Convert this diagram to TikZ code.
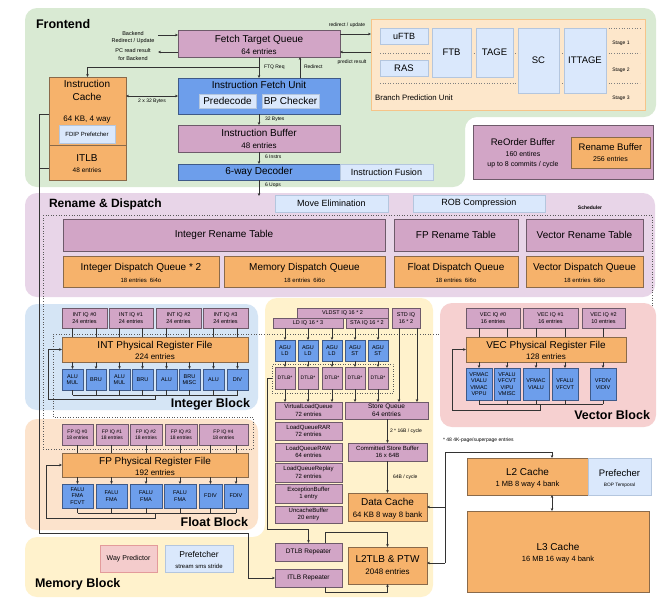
\documentclass[tikz,border=0pt]{standalone}
\usepackage{fontspec}
\setmainfont{Liberation Sans}
\usetikzlibrary{arrows.meta,calc}
\definecolor{greenbg}{HTML}{D9EAD3}
\definecolor{renbg}{HTML}{E8D5E8}
\definecolor{intbg}{HTML}{D5E5F5}
\definecolor{fltbg}{HTML}{FCE3CC}
\definecolor{membg}{HTML}{FFF2CC}
\definecolor{vecbg}{HTML}{F6D0D0}
\definecolor{pinkc}{HTML}{D2A5C6}
\definecolor{pinkd}{HTML}{6E5A6A}
\definecolor{orc}{HTML}{F6B26B}
\definecolor{ord}{HTML}{8A6A4A}
\definecolor{bluec}{HTML}{6D9EEB}
\definecolor{blued}{HTML}{3F5A88}
\definecolor{lbc}{HTML}{DAE8FC}
\definecolor{lbd}{HTML}{B4C6DE}
\definecolor{bpuc}{HTML}{FDE7CB}
\definecolor{bpud}{HTML}{F6C489}
\definecolor{linec}{HTML}{333333}
\definecolor{wpc}{HTML}{F4CCCC}
\definecolor{wpd}{HTML}{E39B9B}
\newcommand{\fsz}[2]{\fontsize{#1}{#2}\selectfont}
\newcommand{\bx}[7]{\node[#1, minimum width={(#5)-(#3)}, minimum height={(#6)-(#4)}] (#2) at ({((#3)+(#5))/2},{((#4)+(#6))/2}) {#7};}
\newcommand{\tx}[5]{\node[inner sep=0pt, outer sep=0pt, text height=0.72em, text depth=0pt, font=\fsz{#4}{#4}] (#1) at (#2,#3) {#5};}
\begin{document}
\begin{tikzpicture}[x=1pt,y=-1pt,
  bxbase/.style={draw, line width=0.5pt, inner sep=0pt, outer sep=0pt, align=center},
  pk/.style={bxbase, fill=pinkc, draw=pinkd},
  og/.style={bxbase, fill=orc, draw=ord},
  bl/.style={bxbase, fill=bluec, draw=blued},
  lb/.style={bxbase, fill=lbc, draw=lbd},
  arr/.style={draw=linec, line width=0.5pt, -{Stealth[length=3pt,width=2.6pt]}},
  dbl/.style={draw=linec, line width=0.5pt, {Stealth[length=3pt,width=2.6pt]}-{Stealth[length=3pt,width=2.6pt]}},
  ln/.style={draw=linec, line width=0.5pt},
  lbl/.style={inner sep=0pt, outer sep=0pt, align=center, font=\fsz{5}{6}},
  ttl/.style={inner sep=0pt, outer sep=0pt, font=\bfseries\fsz{12.5}{14}},
  sch/.style={draw=gray!70!black, dotted, line width=0.6pt},
]
\useasboundingbox (0,0) rectangle (661,606);
\fill[white] (0,0) rectangle (661,606);
% ---------- backgrounds
\fill[greenbg, rounded corners=12pt] (25,8) -- (656,8) -- (656,117) -- (465,117) -- (465,187) -- (25,187) -- cycle;
\fill[renbg, rounded corners=12pt] (25,193) rectangle (655,297);
\fill[intbg, rounded corners=12pt] (25,304) rectangle (258,410);
\fill[fltbg, rounded corners=12pt] (25,419) rectangle (258,530);
\fill[membg, rounded corners=12pt] (265,298) -- (433,298) -- (433,597) -- (25,597) -- (25,537) -- (265,537) -- cycle;
\draw[sch] (43,215) -- (652,215) -- (652,334) -- (53,334) -- (53,417) -- (253,417) -- (253,449) -- (43,449) -- cycle;
\fill[vecbg, rounded corners=12pt] (440,303) rectangle (656,427);
% ---------- titles
\node[ttl, anchor=west] (tfr) at (36,24) {Frontend};
\node[ttl, anchor=west, font=\bfseries\fsz{12}{14}] (trn) at (49,204) {Rename \& Dispatch};
\node[ttl, anchor=east] (tint) at (250,404) {Integer Block};
\node[ttl, anchor=east] (tflt) at (248,522) {Float Block};
\node[ttl, anchor=west] (tmem) at (35,584) {Memory Block};
\node[ttl, anchor=east] (tvec) at (650,415) {Vector Block};
% ---------- frontend
\bx{pk}{ftq}{178}{30}{340}{57}{}
\tx{ftqa}{259}{39}{10}{Fetch Target Queue}
\tx{ftqb}{259}{50.5}{8}{64 entries}
\tx{bka}{133}{32}{5.5}{Backend}
\tx{bkb}{133}{39}{5.5}{Redirect / Update}
\tx{pca}{133}{49}{5.5}{PC read result}
\tx{pcb}{133}{57}{5.5}{for Backend}
\bx{og}{icache}{49}{77}{126}{145}{}
\tx{ica}{87}{84}{10}{Instruction}
\tx{icb}{87}{97}{10}{Cache}
\tx{icc}{87}{118}{8}{64 KB, 4 way}
\bx{lb, font=\fsz{6}{7}}{fdip}{59}{125}{115}{143}{FDIP Prefetcher}
\bx{og}{itlb}{49}{145}{126}{180}{}
\tx{itla}{87}{158}{10}{ITLB}
\tx{itlbb}{87}{169}{6.5}{48 entries}
\bx{bl}{ifu}{178}{78}{340}{114}{}
\tx{ifut}{259}{85}{10}{Instruction Fetch Unit}
\bx{lb, font=\fsz{10}{12}}{prede}{199}{94}{256}{108}{Predecode}
\bx{lb, font=\fsz{10}{12}}{bpchk}{262}{94}{319}{108}{BP Checker}
\bx{pk}{ib}{178}{125}{340}{152}{}
\tx{iba}{259}{133}{10}{Instruction Buffer}
\tx{ibb}{259}{145}{8}{48 entries}
\bx{bl, font=\fsz{10}{12}}{dec}{178}{164}{340}{180}{6-way Decoder}
\bx{lb, font=\fsz{9}{11}}{fus}{340}{164}{433}{180}{Instruction Fusion}
\node[lbl, anchor=west] (lreq) at (264,67) {FTQ Req};
\node[lbl, anchor=west] (lredir) at (304,67) {Redirect};
\node[lbl, anchor=west] (l32) at (265,119) {32 Bytes};
\node[lbl, anchor=west] (l6i) at (265,157) {6 Instrs};
\node[lbl, anchor=west] (l6u) at (265,185) {6 Uops};
\node[lbl] (l2x) at (152,101) {2 x 32 Bytes};
\node[lbl] (lru) at (347,25) {redirect / update};
\node[lbl] (lpr) at (352,62) {predict result};
% BPU
\bx{bxbase, fill=bpuc, draw=bpud, line width=0.8pt}{bpu}{371}{19}{645}{110}{}
\draw[sch, draw=gray] (380,53) -- (640,53);
\draw[sch, draw=gray] (380,83) -- (640,83);
\draw[sch, draw=gray] (606,28) -- (640,28);
\bx{lb, font=\fsz{9}{11}}{uftb}{380}{28}{428}{44}{uFTB}
\bx{lb, font=\fsz{9.5}{11}}{ras}{380}{60}{428}{76}{RAS}
\bx{lb, font=\fsz{9.5}{11}}{ftb}{432}{28}{471}{77}{FTB}
\bx{lb, font=\fsz{9.5}{11}}{tage}{476}{28}{513}{77}{TAGE}
\bx{lb, font=\fsz{9.5}{11}}{sc}{518}{28}{559}{93}{SC}
\bx{lb, font=\fsz{9.5}{11}}{ittage}{564}{28}{606}{93}{ITTAGE}
\tx{st1}{621}{41}{5}{Stage 1}
\tx{st2}{621}{68}{5}{Stage 2}
\tx{st3}{621}{96}{5}{Stage 3}
\node[inner sep=0pt, anchor=west, font=\fsz{7.8}{9}] (bpul) at (375,98) {Branch Prediction Unit};
% ROB
\bx{pk}{rob}{473}{125}{653}{179}{}
\tx{roba}{523}{142}{9.5}{ReOrder Buffer}
\tx{robb}{523}{153}{7}{160 entires}
\tx{robc2}{523}{163}{7}{up to 8 commits / cycle}
\bx{og}{renbuf}{571}{137}{650}{168}{}
\tx{rba}{610.5}{147}{9.5}{Rename Buffer}
\tx{rbb}{610.5}{158}{7}{256 entries}
% frontend connectors
\draw[arr] (ftq.south) -- (ifu.north);
\coordinate (jreq) at (259,67);
\draw[arr] (jreq) -| (icache.north);
\draw[arr] ([xshift=41pt]ifu.north) -- ([xshift=41pt]ftq.south);
\draw[dbl] (ifu.west -| icache.east) -- (ifu.west);
\draw[arr] (ifu.south) -- (ib.north);
\draw[arr] (ib.south) -- (dec.north);
\coordinate (renin) at (259,196);
\draw[arr] (dec.south) -- (renin);
\coordinate (bk1) at (158,35);
\draw[arr] (bk1) -- (bk1 -| ftq.west);
\coordinate (bk2) at (158,52);
\draw[arr] (bk2 -| ftq.west) -- (bk2);
\draw[arr] ([yshift=9.5pt]ftq.east) -- ([yshift=9.5pt]ftq.east -| bpu.west);
\draw[arr] ([yshift=-8.5pt]ftq.east -| bpu.west) -- ([yshift=-8.5pt]ftq.east);
% ---------- rename & dispatch
\bx{lb, font=\fsz{9}{11}}{moveel}{275}{195}{388}{212}{Move Elimination}
\bx{lb, font=\fsz{9}{11}}{robcomp}{413}{195}{545}{212}{ROB Compression}
\node[inner sep=0pt, font=\bfseries\fsz{5}{6}] (schl) at (590,208) {Scheduler};
\bx{pk, font=\fsz{10}{12}}{irt}{63}{219}{385}{251}{Integer Rename Table}
\bx{pk, font=\fsz{10}{12}}{frt}{394}{219}{518}{251}{FP Rename Table}
\bx{pk, font=\fsz{10}{12}}{vrt}{526}{219}{643}{251}{Vector Rename Table}
\bx{og}{idq}{63}{256}{219}{287}{}
\tx{idqa}{141}{267}{10}{Integer Dispatch Queue * 2}
\tx{idqb}{141}{279}{6}{18 entries\enspace 6i4o}
\bx{og}{mdq}{224}{256}{385}{287}{}
\tx{mdqa}{304.5}{267}{10}{Memory Dispatch Queue}
\tx{mdqb}{304.5}{279}{6}{18 entries\enspace 6i6o}
\bx{og}{fdq}{394}{256}{518}{287}{}
\tx{fdqa}{456}{267}{10}{Float Dispatch Queue}
\tx{fdqb}{456}{279}{6}{18 entries\enspace 6i6o}
\bx{og}{vdq}{526}{256}{643}{287}{}
\tx{vdqa}{584.5}{267}{10}{Vector Dispatch Queue}
\tx{vdqb}{584.5}{279}{6}{18 entries\enspace 6i6o}
% ---------- left long lines
\coordinate (l1) at (39,114); \coordinate (l2) at (39,533); \coordinate (l3) at (248,533); \coordinate (l4) at (39,168);
\draw[ln] (l1 -| icache.west) -- (l1) -- (l2) -- (l3);
\draw[ln] (l4 -| itlb.west) -- (l4);
% ---------- integer block
\bx{pk, font=\fsz{5.5}{6.5}}{iiq0}{62}{308}{107}{328}{INT IQ \#0\\24 entries}
\bx{pk, font=\fsz{5.5}{6.5}}{iiq1}{109}{308}{153}{328}{INT IQ \#1\\24 entries}
\bx{pk, font=\fsz{5.5}{6.5}}{iiq2}{156}{308}{201}{328}{INT IQ \#2\\24 entries}
\bx{pk, font=\fsz{5.5}{6.5}}{iiq3}{203}{308}{248}{328}{INT IQ \#3\\24 entries}
\bx{og}{iprf}{62}{337}{248}{362}{}
\tx{iprfa}{155}{344.5}{10}{INT Physical Register File}
\tx{iprfb}{155}{356}{8}{224 entries}
\bx{bl, font=\fsz{5.5}{6.5}}{iu1}{62}{369}{83}{390}{ALU\\MUL}
\bx{bl, font=\fsz{5.5}{6.5}}{iu2}{86}{369}{106}{390}{BRU}
\bx{bl, font=\fsz{5.5}{6.5}}{iu3}{109}{369}{130}{390}{ALU\\MUL}
\bx{bl, font=\fsz{5.5}{6.5}}{iu4}{132}{369}{153}{390}{BRU}
\bx{bl, font=\fsz{5.5}{6.5}}{iu5}{156}{369}{177}{390}{ALU}
\bx{bl, font=\fsz{5.5}{6.5}}{iu6}{179}{369}{200}{390}{BRU\\MISC}
\bx{bl, font=\fsz{5.5}{6.5}}{iu7}{203}{369}{224}{390}{ALU}
\bx{bl, font=\fsz{5.5}{6.5}}{iu8}{227}{369}{248}{390}{DIV}
\coordinate (iqb) at (0,328); \coordinate (ibus) at (0,395);
\foreach \u in {1,...,8}{
  \draw[ln] (iu\u.north |- iqb) -- (iu\u.north |- iprf.north);
  \draw[arr] (iu\u.north |- iprf.south) -- (iu\u.north);
  \draw[ln] (iu\u.south) -- (iu\u.south |- ibus);
}
\draw[ln] (iu1.south |- ibus) -- (iu8.south |- ibus);
\coordinate (iw1) at (155,395); \coordinate (iw2) at (48,399);
\draw[arr] (iw1) |- (iw2) |- (iprf.west);
% ---------- float block
\bx{pk, font=\fsz{5}{6}}{fiq0}{62}{424}{93}{445}{FP IQ \#0\\18 entries}
\bx{pk, font=\fsz{5}{6}}{fiq1}{96}{424}{128}{445}{FP IQ \#1\\18 entries}
\bx{pk, font=\fsz{5}{6}}{fiq2}{130}{424}{162}{445}{FP IQ \#2\\18 entries}
\bx{pk, font=\fsz{5}{6}}{fiq3}{165}{424}{197}{445}{FP IQ \#3\\18 entries}
\bx{pk, font=\fsz{5}{6}}{fiq4}{199}{424}{248}{445}{FP IQ \#4\\18 entries}
\bx{og}{fprf}{62}{453}{248}{477}{}
\tx{fprfa}{155}{461}{10}{FP Physical Register File}
\tx{fprfb}{155}{472}{8}{192 entries}
\bx{bl, font=\fsz{5.5}{6.5}}{fu1}{62}{484}{93}{508}{FALU\\FMA\\FCVT}
\bx{bl, font=\fsz{5.5}{6.5}}{fu2}{96}{484}{127}{508}{FALU\\FMA}
\bx{bl, font=\fsz{5.5}{6.5}}{fu3}{130}{484}{162}{508}{FALU\\FMA}
\bx{bl, font=\fsz{5.5}{6.5}}{fu4}{164}{484}{196}{508}{FALU\\FMA}
\bx{bl, font=\fsz{5.5}{6.5}}{fu5}{199}{484}{222}{508}{FDIV}
\bx{bl, font=\fsz{5.5}{6.5}}{fu6}{224}{484}{248}{508}{FDIV}
\coordinate (fiqb) at (0,445); \coordinate (fbus) at (0,513);
\foreach \u in {1,...,6}{
  \draw[ln] (fu\u.north |- fiqb) -- (fu\u.north |- fprf.north);
  \draw[arr] (fu\u.north |- fprf.south) -- (fu\u.north);
  \draw[ln] (fu\u.south) -- (fu\u.south |- fbus);
}
\draw[ln] (fu1.south |- fbus) -- (fu6.south |- fbus);
\coordinate (fw1) at (155,513); \coordinate (fw2) at (46,518);
\draw[arr] (fw1) |- (fw2) |- (fprf.west);
% ---------- vector block
\bx{pk, font=\fsz{5.5}{6.5}}{viq0}{466}{308}{520}{328}{VEC IQ \#0\\16 entries}
\bx{pk, font=\fsz{5.5}{6.5}}{viq1}{523}{308}{578}{328}{VEC IQ \#1\\16 entries}
\bx{pk, font=\fsz{5.5}{6.5}}{viq2}{582}{308}{625}{328}{VEC IQ \#2\\10 entries}
\bx{og}{vprf}{466}{337}{626}{362}{}
\tx{vprfa}{546}{344.5}{10}{VEC Physical Register File}
\tx{vprfb}{546}{356}{8}{128 entries}
\bx{bl, font=\fsz{5.5}{6.5}}{vu1}{466}{368}{492}{400}{VFMAC\\VIALU\\VIMAC\\VPPU}
\bx{bl, font=\fsz{5.5}{6.5}}{vu2}{494}{368}{520}{400}{VFALU\\VFCVT\\VIPU\\VMISC}
\bx{bl, font=\fsz{5.5}{6.5}}{vu3}{523}{368}{549}{400}{VFMAC\\VIALU}
\bx{bl, font=\fsz{5.5}{6.5}}{vu4}{552}{368}{578}{400}{VFALU\\VFCVT}
\bx{bl, font=\fsz{5.5}{6.5}}{vu5}{590}{368}{616}{400}{VFDIV\\VIDIV}
\coordinate (viqb) at (0,328); \coordinate (vbus) at (0,404);
\foreach \u in {1,...,5}{
  \draw[ln] (vu\u.north |- viqb) -- (vu\u.north |- vprf.north);
  \draw[arr] (vu\u.north |- vprf.south) -- (vu\u.north);
  \draw[ln] (vu\u.south) -- (vu\u.south |- vbus);
}
\draw[ln] (vu1.south |- vbus) -- (vu5.south |- vbus);
\coordinate (vw1) at (540,404); \coordinate (vw2) at (452,410);
\draw[arr] (vw1) |- (vw2) |- (vprf.west);
% ---------- memory block
\bx{pk, font=\fsz{5.5}{6.5}}{vldst}{297}{308}{388}{318}{VLDST IQ 16 * 2}
\bx{pk, font=\fsz{5.5}{6.5}}{ldiq}{273}{318}{343}{328}{LD IQ 16 * 3}
\bx{pk, font=\fsz{5.5}{6.5}}{staiq}{346}{318}{388}{328}{STA IQ 16 * 2}
\bx{pk, font=\fsz{5.5}{6.5}}{stdiq}{392}{308}{420}{328}{STD IQ\\16 * 2}
\bx{bl, font=\fsz{5.5}{6.5}}{agu1}{275}{340}{295}{361}{AGU\\LD}
\bx{bl, font=\fsz{5.5}{6.5}}{agu2}{298}{340}{318}{361}{AGU\\LD}
\bx{bl, font=\fsz{5.5}{6.5}}{agu3}{322}{340}{342}{361}{AGU\\LD}
\bx{bl, font=\fsz{5.5}{6.5}}{agu4}{345}{340}{365}{361}{AGU\\ST}
\bx{bl, font=\fsz{5.5}{6.5}}{agu5}{368}{340}{388}{361}{AGU\\ST}
\bx{bxbase, draw=gray!70!black, dotted, line width=0.6pt}{dtlbgrp}{272}{364}{393}{393}{}
\bx{pk, font=\fsz{5}{6}}{dtlb1}{275}{367}{295}{389}{DTLB*}
\bx{pk, font=\fsz{5}{6}}{dtlb2}{298}{367}{318}{389}{DTLB*}
\bx{pk, font=\fsz{5}{6}}{dtlb3}{322}{367}{342}{389}{DTLB*}
\bx{pk, font=\fsz{5}{6}}{dtlb4}{345}{367}{365}{389}{DTLB*}
\bx{pk, font=\fsz{5}{6}}{dtlb5}{368}{367}{388}{389}{DTLB*}
\bx{pk, font=\fsz{6}{7.5}}{vlq}{275}{402}{342}{419}{VirtualLoadQueue\\72 entries}
\bx{pk, font=\fsz{6.5}{8}}{sq}{345}{402}{428}{419}{Store Queue\\64 entries}
\bx{pk, font=\fsz{6}{7.5}}{lqrar}{275}{422}{342}{440}{LoadQueueRAR\\72 entries}
\bx{pk, font=\fsz{6}{7.5}}{lqraw}{275}{443}{342}{461}{LoadQueueRAW\\64 entries}
\bx{pk, font=\fsz{6}{7.5}}{lqrep}{275}{463}{342}{482}{LoadQueueReplay\\72 entries}
\bx{pk, font=\fsz{6}{7.5}}{excb}{275}{484}{342}{503}{ExceptionBuffer\\1 entry}
\bx{pk, font=\fsz{6}{7.5}}{uncb}{275}{506}{342}{523}{UncacheBuffer\\20 entry}
\bx{pk, font=\fsz{6}{7.5}}{csb}{348}{443}{427}{461}{Committed Store Buffer\\16 x 64B}
\bx{og}{dc}{348}{493}{427}{521}{}
\tx{dca}{387.5}{502}{10}{Data Cache}
\tx{dcb}{387.5}{514}{7.8}{64 KB 8 way 8 bank}
\bx{og}{l2tlb}{348}{547}{427}{584}{}
\tx{l2ta}{387.5}{559}{10}{L2TLB \& PTW}
\tx{l2tb}{387.5}{571}{8}{2048 entries}
\bx{pk, font=\fsz{6.5}{8}}{dtlbrep}{275}{543}{342}{561}{DTLB Repeater}
\bx{pk, font=\fsz{6.5}{8}}{itlbrep}{275}{569}{342}{587}{ITLB Repeater}
\bx{bxbase, fill=wpc, draw=wpd, font=\fsz{7}{8}}{wayp}{100}{545}{157}{572}{Way Predictor}
\bx{lb}{mpref}{165}{545}{233}{572}{}
\tx{mprefa}{199}{554}{8.5}{Prefetcher}
\tx{mprefb}{199}{565}{6}{stream sms stride}
\node[lbl, anchor=west] (l216) at (390,431) {2 * 16B / cycle};
\node[lbl, anchor=west] (l64) at (393,477) {64B / cycle};
% memory connectors
\foreach \u in {1,2,3}{
  \draw[arr] (agu\u.north |- ldiq.south) -- (agu\u.north);
  \draw[arr] (agu\u.south) -- (dtlb\u.north);
  \draw[arr] (dtlb\u.south) -- (dtlb\u.south |- vlq.north);
}
\foreach \u in {4,5}{
  \draw[arr] (agu\u.north |- staiq.south) -- (agu\u.north);
  \draw[arr] (agu\u.south) -- (dtlb\u.north);
  \draw[arr] (dtlb\u.south) -- (dtlb\u.south |- sq.north);
}
\draw[arr] ([xshift=-7pt]stdiq.south) -- ([xshift=-7pt]stdiq.south |- sq.north);
\draw[arr] ([xshift=11pt]stdiq.south) -- ([xshift=11pt]stdiq.south |- sq.north);
\draw[arr] (csb.north |- sq.south) -- (csb.north);
\draw[arr] (csb.south) -- (dc.north);
\coordinate (d1) at (267,378); \coordinate (d2) at (267,529);
\draw[ln] (d1 -| dtlbgrp.west) -- (d1) -- (d2);
\draw[arr] (d2) -| (dtlbrep.north);
\coordinate (d3) at (325,532);
\draw[arr] (d3 |- dtlbrep.north) -- (d3) -| (l2tlb.north);
\coordinate (d4) at (325,592);
\draw[arr] (d4 |- itlbrep.south) -- (d4) -| (l2tlb.south);
\draw[arr] (l3) |- (itlbrep.west);
% ---------- L2 / L3
\bx{og}{l2}{467}{458}{588}{495}{}
\tx{l2a}{527.5}{472}{10}{L2 Cache}
\tx{l2b}{527.5}{483}{7.5}{1 MB 8 way 4 bank}
\bx{lb}{l2pf}{588}{458}{651}{495}{}
\tx{l2pfa}{619.5}{473}{9.5}{Prefecher}
\tx{l2pfb}{619.5}{482.5}{4.8}{BOP Temporal}
\bx{og}{l3}{467}{511}{649}{592}{}
\tx{l3a}{558}{547}{10}{L3 Cache}
\tx{l3b}{558}{558}{7.5}{16 MB 16 way 4 bank}
\node[lbl, anchor=west] (lnote) at (443,440) {* 48 4K-page/superpage entries};
\coordinate (c1) at (552,452); \coordinate (c2) at (445,452); \coordinate (c3) at (445,563);
\draw[arr] (c2) -- (c1) -- (c1 |- l2.north);
\draw[ln] (c2) -- (c3);
\draw[arr] (c2 |- dc.east) -- (dc.east);
\draw[arr] (c3) -- (c3 -| l2tlb.east);
\draw[dbl] (c1 |- l2.south) -- (c1 |- l3.north);
\end{tikzpicture}
\end{document}
